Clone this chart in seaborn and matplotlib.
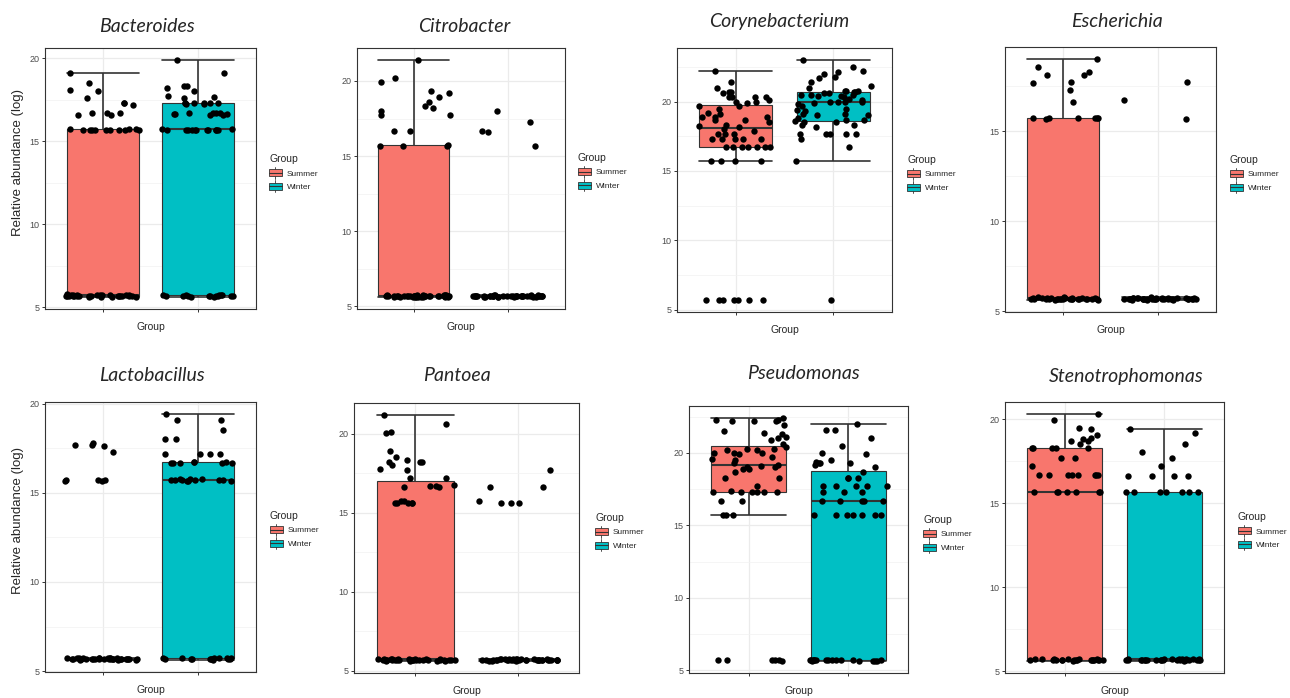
import numpy as np
import pandas as pd
import matplotlib
matplotlib.use("Agg")
import matplotlib.pyplot as plt
import seaborn as sns
from matplotlib.patches import Patch, Rectangle
from matplotlib.lines import Line2D
from matplotlib.legend_handler import HandlerBase
from matplotlib.ticker import FixedLocator

groups = ["Summer", "Winter"]
group_colors = ["#F8766D", "#00BFC4"]

# relative abundance (log) of each sample
bacteroides_summer = [
    5.70, 5.66, 5.74, 5.68, 5.72, 5.64, 5.70, 5.76, 5.62, 5.70,
    5.68, 5.74, 5.66, 5.72, 5.70, 5.64, 5.78, 5.68, 5.70, 5.72,
    5.66, 5.74, 5.70, 5.62, 5.68, 5.76, 5.70, 5.72, 5.66, 5.70,
    15.70, 15.75, 15.65, 15.70, 15.70, 15.75, 15.65, 15.70, 15.70, 15.70, 15.75, 15.70,
    19.1, 18.5, 18.1, 17.6, 17.3, 17.2, 17.3, 16.7, 16.6, 16.7, 16.6, 18.0, 16.7,
]
bacteroides_winter = [
    5.70, 5.74, 5.72, 5.66, 5.62, 5.68, 5.70, 5.64, 5.68, 5.72, 5.70, 5.66, 5.74, 5.70, 5.68, 5.72,
    15.70, 15.75, 15.70, 15.65, 15.70, 15.70, 15.65, 15.75, 15.70, 15.70, 15.65, 15.70, 15.70,
    16.70, 16.65, 16.70, 16.60, 16.70, 16.65, 16.60, 16.70, 16.65,
    17.30, 17.25, 17.30, 17.30, 17.25, 17.30, 17.30, 17.30,
    19.9, 19.1, 18.3, 18.0, 17.7, 17.6, 18.2, 18.35, 17.65,
]
citrobacter_summer = [
    5.70, 5.66, 5.72, 5.68, 5.74, 5.70, 5.64, 5.72, 5.68, 5.70,
    5.66, 5.74, 5.70, 5.62, 5.72, 5.68, 5.70, 5.76, 5.66, 5.70,
    5.72, 5.68, 5.64, 5.70, 5.74, 5.66, 5.70, 5.72, 5.68, 5.70,
    5.64, 5.74, 5.70, 5.66, 5.72, 5.70, 5.68, 5.76, 5.70, 5.66,
    15.70, 15.72, 15.68, 15.70,
    21.4, 19.3, 18.3, 17.7, 16.7, 18.6, 18.0, 18.9, 17.7, 20.2, 19.9, 19.2, 18.2, 16.7,
]
citrobacter_winter = [
    5.68, 5.70, 5.66, 5.72, 5.70, 5.74, 5.68, 5.70, 5.64, 5.72,
    5.70, 5.66, 5.70, 5.72, 5.68, 5.70, 5.74, 5.66, 5.70, 5.68,
    5.72, 5.70, 5.64, 5.70, 5.72, 5.68, 5.70, 5.66, 5.74, 5.70,
    5.68, 5.72, 5.70, 5.66, 5.70, 5.72, 5.68, 5.70, 5.74, 5.68,
    15.7, 18.0, 16.7, 16.6, 17.3,
]
corynebacterium_summer = [
    22.2, 20.0, 20.3, 19.7, 19.15, 18.7, 18.3, 18.9, 18.9, 18.7,
    17.7, 17.3, 17.3, 16.7, 16.7, 16.7, 18.9, 20.7, 20.3, 20.3,
    19.7, 17.7, 16.7, 16.7, 20.1, 20.3, 20.7, 18.5, 19.1, 17.3,
    16.7, 21.4, 21.0, 20.6, 19.9, 19.5, 18.0, 17.7, 17.3, 17.3,
    18.2, 18.25, 17.9, 20.0, 16.7, 15.7, 15.7, 15.7, 15.7,
    5.7, 5.7, 5.7, 5.7, 5.7, 5.7, 5.7,
]
corynebacterium_winter = [
    23.0, 22.5, 22.1, 21.8, 22.0, 21.7, 22.2, 21.1, 21.0, 21.4,
    20.8, 20.7, 20.8, 20.4, 20.5, 20.5, 20.6, 20.0, 20.1, 19.8,
    19.7, 20.0, 19.5, 19.3, 19.1, 19.4, 19.1, 19.0, 19.9, 18.7,
    18.5, 18.5, 18.3, 17.7, 17.7, 17.7, 17.7, 17.7, 16.7, 17.3,
    18.2, 18.7, 19.0, 18.8, 18.6, 18.3, 20.0, 20.5, 20.3, 20.6,
    20.2, 20.4, 15.7, 5.7, 20.0, 20.7, 20.8,
]
escherichia_summer = [
    5.70, 5.66, 5.72, 5.64, 5.74, 5.70, 5.68, 5.76, 5.70, 5.66,
    5.72, 5.70, 5.68, 5.74, 5.66, 5.70, 5.72, 5.64, 5.70, 5.68,
    5.74, 5.70, 5.66, 5.72, 5.68, 5.70, 5.76, 5.66, 5.70, 5.72,
    15.70, 15.75, 15.70, 15.65, 15.72, 15.75, 15.70,
    19.0, 18.55, 18.3, 17.7, 18.1, 17.3, 17.65, 18.1, 16.6,
]
escherichia_winter = [
    5.68, 5.72, 5.70, 5.66, 5.74, 5.70, 5.68, 5.64, 5.72, 5.70,
    5.66, 5.70, 5.74, 5.68, 5.70, 5.72, 5.66, 5.70, 5.64, 5.72,
    5.70, 5.68, 5.74, 5.70, 5.66, 5.72, 5.70, 5.68, 5.62, 5.70,
    5.74, 5.66, 5.70, 5.72, 5.68, 5.76,
    17.75, 16.7, 15.65,
]
lactobacillus_summer = [
    5.70, 5.66, 5.74, 5.68, 5.70, 5.72, 5.64, 5.70, 5.68, 5.74,
    5.66, 5.70, 5.72, 5.68, 5.70, 5.64, 5.72, 5.70, 5.66, 5.74,
    5.70, 5.68, 5.72, 5.70, 5.76, 5.66, 5.70, 5.68, 5.72, 5.64,
    5.70, 5.74, 5.68, 5.70,
    15.70, 15.70, 15.68, 15.70, 15.66,
    17.8, 17.7, 17.7, 17.3, 17.6,
]
lactobacillus_winter = [
    5.70, 5.72, 5.66, 5.74, 5.68, 5.70, 5.64, 5.72, 5.70, 5.66, 5.74, 5.70, 5.68, 5.72, 5.76,
    15.70, 15.65, 15.75, 15.70, 15.65, 15.70, 15.75, 15.70, 15.70, 15.65, 15.75, 15.70,
    16.70, 16.65, 16.65, 16.70, 16.65, 16.65, 16.70, 16.65,
    19.4, 19.1, 19.1, 18.5, 18.0, 18.0, 17.2, 17.2, 17.2, 17.2,
]
pantoea_summer = [
    5.70, 5.66, 5.72, 5.64, 5.70, 5.68, 5.74, 5.70, 5.66, 5.72,
    5.70, 5.68, 5.64, 5.70, 5.72, 5.66, 5.70, 5.74, 5.68, 5.70,
    5.72, 5.66, 5.70, 5.64, 5.72, 5.70, 5.68, 5.74, 5.70, 5.66,
    5.72, 5.64,
    21.17, 18.94, 17.23, 15.74, 15.74, 15.64, 16.66, 16.75, 15.65, 15.65,
    15.65, 20.1, 18.5, 17.23, 20.64, 18.23, 18.34, 18.2, 18.2, 18.0,
    17.77, 16.64, 20.06, 17.72, 16.7, 16.7, 15.6,
]
pantoea_winter = [
    5.70, 5.68, 5.72, 5.66, 5.70, 5.74, 5.68, 5.70, 5.64, 5.72,
    5.70, 5.66, 5.70, 5.72, 5.68, 5.70, 5.74, 5.66, 5.70, 5.68,
    5.72, 5.70, 5.64, 5.70, 5.72, 5.68, 5.70, 5.66, 5.74, 5.70,
    5.68, 5.72, 5.70, 5.66, 5.70, 5.72, 5.64, 5.70,
    15.6, 15.65, 16.64, 16.64, 15.74, 17.72, 15.6,
]
pseudomonas_summer = [
    22.2, 22.2, 22.3, 22.4, 22.3, 22.2, 21.5, 21.9, 21.4, 21.3,
    21.1, 20.9, 21.0, 20.6, 20.2, 20.3, 20.4, 20.3, 20.2, 20.0,
    20.0, 20.0, 19.9, 19.7, 19.6, 19.5, 19.3, 19.1, 19.2, 19.0,
    19.0, 18.9, 18.9, 18.7, 18.3, 18.3, 17.7, 17.4,
    17.3, 17.3, 17.3, 17.3, 17.3, 17.3, 16.7, 16.7, 15.7, 15.7, 15.7,
    5.7, 5.72, 5.7, 5.68, 5.7, 5.7,
]
pseudomonas_winter = [
    5.70, 5.72, 5.68, 5.70, 5.70, 5.66, 5.72, 5.70, 5.68, 5.70,
    5.74, 5.70, 5.68, 5.72, 5.70, 5.66, 5.70, 5.72,
    22.0, 21.6, 21.6, 21.0, 20.5, 19.9, 19.5, 19.3, 19.2, 19.0,
    19.3, 19.4, 20.0, 19.3, 18.7, 18.3, 18.3, 18.3,
    17.7, 17.7, 17.7, 17.7, 17.7, 17.3, 17.3, 17.3,
    16.7, 16.7, 16.7, 16.7, 16.7,
    15.7, 15.7, 15.7, 15.7, 15.7, 15.7, 15.7,
]
stenotrophomonas_summer = [
    5.70, 5.66, 5.72, 5.68, 5.70, 5.74, 5.66, 5.70, 5.72, 5.68, 5.70,
    5.64, 5.72, 5.70, 5.68, 5.74, 5.70, 5.66, 5.72, 5.70, 5.68, 5.70,
    20.3, 19.96, 19.42, 19.46, 19.07, 18.83, 18.87, 18.7, 18.7, 18.53,
    18.3, 18.3, 18.3, 18.3, 18.3, 17.68, 17.68, 17.24,
    16.7, 16.7, 16.7, 16.7, 16.7, 16.7, 16.7, 16.7,
    15.7, 15.7, 15.7, 15.7, 15.7, 15.7, 15.7,
]
stenotrophomonas_winter = [
    5.70, 5.68, 5.72, 5.66, 5.70, 5.74, 5.68, 5.70, 5.66, 5.72,
    5.70, 5.68, 5.70, 5.74, 5.66, 5.70, 5.72, 5.68, 5.70, 5.64,
    5.72, 5.70, 5.68, 5.70, 5.74, 5.66, 5.70, 5.72,
    19.42, 19.17, 18.51, 18.04, 17.68, 17.24, 16.65, 16.65, 16.65, 16.65,
    15.7, 15.7, 15.7, 15.7, 15.7, 15.7, 15.7,
]

genera = ["Bacteroides", "Citrobacter", "Corynebacterium", "Escherichia",
          "Lactobacillus", "Pantoea", "Pseudomonas", "Stenotrophomonas"]
summer_values = [bacteroides_summer, citrobacter_summer, corynebacterium_summer, escherichia_summer,
                 lactobacillus_summer, pantoea_summer, pseudomonas_summer, stenotrophomonas_summer]
winter_values = [bacteroides_winter, citrobacter_winter, corynebacterium_winter, escherichia_winter,
                 lactobacillus_winter, pantoea_winter, pseudomonas_winter, stenotrophomonas_winter]

# page layout in pixels: panel box (left, top, right, bottom), title, legend
W, H = 1290, 698
panel_px = [(45, 48, 256, 309), (357, 48, 565, 309), (677, 48, 892, 312), (1005, 47, 1216, 312),
            (45, 402, 256, 672), (354, 403, 579, 673), (689, 406, 908, 673), (1005, 402, 1224, 673)]
title_px = [(147, 32), (464, 32), (779, 27), (1117, 27),
            (152, 381), (457, 381), (803, 379), (1126, 382)]
legend_px = [(269, 154), (578, 153), (907, 155), (1230, 155),
             (270, 511), (595, 513), (923, 515), (1238, 512)]

EDGE = "#333333"


class BoxKey(HandlerBase):
    # ggplot-like boxplot legend key
    def create_artists(self, legend, orig_handle, xdescent, ydescent, width, height, fontsize, trans):
        x0, y0 = -xdescent, -ydescent
        cx = x0 + width / 2
        stem = Line2D([cx, cx], [y0 - 0.15 * height, y0 + 1.15 * height], color=EDGE, lw=0.6, transform=trans)
        box = Rectangle((x0, y0 + 0.1 * height), width, 0.8 * height, facecolor=orig_handle.get_facecolor(),
                        edgecolor=EDGE, lw=0.6, transform=trans)
        med = Line2D([x0, x0 + width], [y0 + height / 2] * 2, color=EDGE, lw=0.8, transform=trans)
        return [stem, box, med]


sns.set_style("white")
plt.rcParams["font.family"] = ["Liberation Sans", "DejaVu Sans"]
np.random.seed(11)

fig = plt.figure(figsize=(W / 100, H / 100), dpi=100)

for i, name in enumerate(genera):
    s, w = summer_values[i], winter_values[i]
    df = pd.DataFrame({"Group": ["Summer"] * len(s) + ["Winter"] * len(w), "abundance": s + w})
    x0, y0, x1, y1 = panel_px[i]
    ax = fig.add_axes([x0 / W, 1 - y1 / H, (x1 - x0) / W, (y1 - y0) / H])

    sns.boxplot(data=df, x="Group", y="abundance", hue="Group", order=groups, hue_order=groups,
                palette=dict(zip(groups, group_colors)), saturation=1, width=0.75, capwidths=0.75,
                showfliers=False, linecolor=EDGE, linewidth=0.8,
                medianprops={"linewidth": 1.5}, whiskerprops={"linewidth": 1.2},
                capprops={"linewidth": 1.2}, legend=False, ax=ax)
    sns.stripplot(data=df, x="Group", y="abundance", order=groups, color="black",
                  jitter=0.39, size=4.6, linewidth=0, zorder=3, ax=ax)

    ax.set_xticks([0, 1], labels=["", ""])
    ax.set_yticks([5, 10, 15, 20])
    ax.yaxis.set_minor_locator(FixedLocator([7.5, 12.5, 17.5, 22.5]))
    lo, hi = df["abundance"].min(), df["abundance"].max()
    pad = 0.05 * (hi - lo)
    ax.set_ylim(lo - pad, hi + pad)
    ax.set_xlim(-0.6, 1.6)
    ax.grid(True, which="major", color="#EBEBEB", linewidth=0.9)
    ax.grid(True, which="minor", axis="y", color="#F2F2F2", linewidth=0.5)
    ax.set_axisbelow(True)
    ax.tick_params(which="major", direction="out", length=2.5, width=0.7, color=EDGE,
                   labelsize=6.5, labelcolor="#4D4D4D", pad=1.5, left=True, bottom=True)
    ax.tick_params(which="minor", length=0)
    for sp in ax.spines.values():
        sp.set_visible(True)
        sp.set_color(EDGE)
        sp.set_linewidth(0.8)

    ax.set_xlabel("Group", fontsize=7.5)
    ax.xaxis.set_label_coords(0.5, -13 / (y1 - y0))
    if i % 4 == 0:
        ax.set_ylabel("Relative abundance (log)", fontsize=9.5)
        ax.yaxis.set_label_coords(-0.10, 0.56)
    else:
        ax.set_ylabel("")

    tx, ty = title_px[i]
    fig.text(tx / W, 1 - ty / H, name, ha="center", va="baseline", style="italic",
             family="Lato", fontsize=14)

    lx, ly = legend_px[i]
    handles = [Patch(facecolor=c, edgecolor=EDGE) for c in group_colors]
    leg = ax.legend(handles, groups, title="Group", loc="upper left",
                    bbox_to_anchor=(lx / W, 1 - ly / H), bbox_transform=fig.transFigure,
                    frameon=False, fontsize=6, title_fontsize=7.5, borderpad=0, borderaxespad=0,
                    handlelength=1.5, handleheight=1.3, handletextpad=0.6, labelspacing=0.5,
                    handler_map={Patch: BoxKey()})
    leg._legend_box.align = "left"

fig.savefig("out.png", dpi=100)
